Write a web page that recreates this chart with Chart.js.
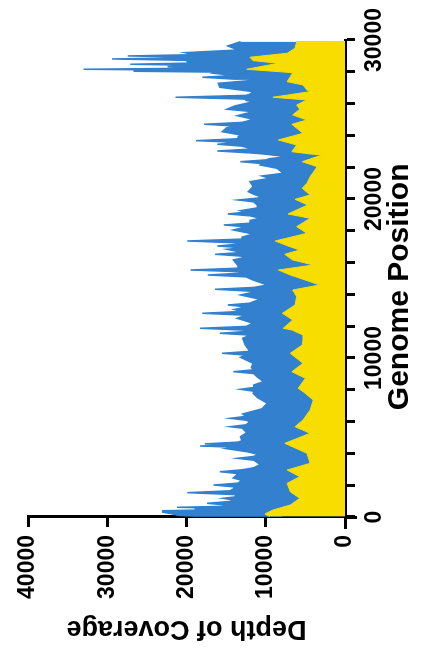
<!DOCTYPE html>
<html><head><meta charset="utf-8">
<script src="https://cdn.jsdelivr.net/npm/chart.js@4"></script>
<style>
html,body{margin:0;padding:0;background:#fff;overflow:hidden;width:426px;height:648px;}
#wrap{position:absolute;left:0;top:0;width:648px;height:426px;transform-origin:0 0;transform:translateY(648px) rotate(-90deg);}
</style></head><body>
<div id="wrap"><canvas id="c" width="648" height="426"></canvas></div>
<script>
// Genome positions and total depth of coverage (blue)
const totalPos = [
  30,60,100,189,300,396,450,500,550,610,
  670,745,862,980,1060,1176,1290,1410,1530,1650,
  1800,1893,2013,2130,2300,2450,2730,2849,2970,3100,
  3300,3570,3692,3810,3950,4107,4300,4380,4466,4530,
  4600,4710,4800,5051,5300,5500,5560,5680,5800,6000,
  6088,6208,6330,6479,6800,7152,7500,7780,7910,8032,
  8150,8300,8510,8825,9020,9140,9260,9400,9668,10045,
  10180,10297,10420,10819,11240,11440,11555,11670,11750,11869,
  11990,12184,12498,12690,12813,12930,13050,13215,13335,13450,
  13550,13693,13964,14150,14203,14323,14440,14593,14907,15100,
  15222,15340,15420,15536,15650,15800,16165,16350,16404,16524,
  16640,16838,16930,17046,17160,17240,17360,17480,17600,17800,
  18052,18250,18367,18480,18650,18790,18940,19059,19180,19266,
  19450,19625,19820,19939,20060,20147,20300,20461,20776,21090,
  21300,21449,21619,21933,22141,22230,22348,22460,22540,22663,
  22833,22900,23021,23140,23200,23323,23443,23560,23670,23790,
  23900,24028,24235,24487,24580,24701,24820,24880,25015,25242,
  25493,25644,25852,26120,26200,26280,26400,26520,26600,26750,
  27027,27279,27487,27540,27657,27770,27909,27980,28035,28090,
  28160,28230,28325,28400,28475,28560,28640,28720,28808,28890,
  28940,28997,29080,29205,29374,29626,29896];
const totalDepth = [
  8000,19000,21000,21700,23000,23000,17000,19000,16000,21200,
  15500,14800,17400,14500,14000,15400,13500,14000,19900,14500,
  14000,14000,16600,13500,13000,14100,13500,15800,13000,11500,
  10700,11500,13600,11500,11000,12400,15000,13500,18300,14000,
  17700,13500,13000,13200,12400,12800,12500,14500,12500,12000,
  12500,14500,12500,12900,10500,9800,11000,11600,11500,13200,
  11500,11500,10300,11100,11500,14100,11500,11800,11600,13200,
  12500,15500,12000,12600,12900,12000,15800,12500,12500,18300,
  12500,11600,13600,12500,18000,13000,14000,12500,14800,12000,
  11500,10700,13200,11500,12000,16400,11500,9800,11600,12500,
  17300,13000,13000,19500,13500,13500,14100,12500,13000,16400,
  13000,14900,13000,16100,13500,13500,19900,13000,13000,11600,
  14100,12500,15300,12000,12000,10700,12000,14800,12500,13200,
  11000,11100,11500,13500,11000,10700,11500,12200,11600,12000,
  9500,10500,7800,8600,10700,10500,13200,10000,9500,7300,
  10300,12000,16100,12000,12000,13000,16100,13500,18800,13500,
  13500,13200,15500,14900,13500,17800,13000,12500,11600,13600,
  11600,14900,13900,11600,12500,12500,21400,12500,12000,11600,
  15800,16000,11100,14000,18000,14000,16600,16000,26700,17000,
  33000,18000,22400,18000,27100,18500,19900,20000,29400,20000,
  20000,27400,19000,20200,13500,14800,13200];
// Genome positions and subset depth (yellow)
const subsetPos = [30,189,440,755,1176,1591,2120,2535,2956,3378,4007,4214,4636,5265,5680,6101,6730,7359,7850,8095,8724,9140,9668,10297,10819,11133,11448,11762,11869,12391,12813,13335,13857,14278,14593,14801,15222,15536,15851,16165,16524,16794,17046,17360,17845,18262,18790,19059,19625,19983,20254,20675,20990,21405,22034,22348,22770,22833,22978,23399,23713,24135,24450,24701,24971,25286,25644,25915,26229,26400,26752,26858,27173,27381,27695,27946,28160,28538,28701,28915,29167,29481,29896,29950];
const subsetDepth = [9500,10100,9100,6900,5700,6900,7300,5700,7300,4400,4800,5700,7600,4400,6300,5300,4400,4000,5200,5900,5000,6700,5300,6900,5400,5300,5300,6700,7800,6600,7900,6300,6100,6600,3200,4400,6900,8400,4000,6600,7600,5700,7200,8800,4800,6100,4400,7200,4700,6300,4400,5400,4800,4400,3500,5400,2900,4400,6700,6100,8400,5300,6100,6700,4800,6600,5700,6100,4800,9100,4400,4800,5300,7300,6900,6600,12400,8400,11600,12000,7300,6300,6100,6000];
// Axis ticks
const genomeTicks = [0,10000,20000,30000];
const depthTicks = [0,10000,20000,30000,40000];

const toXY = (xs, ys) => xs.map((x, i) => ({x: x, y: ys[i]}));
const FONT = '"Liberation Sans", Arial, Helvetica, sans-serif';

const crossAxes = {
  id: 'crossAxes',
  afterDraw(chart) {
    const {ctx, scales: {x, y}} = chart;
    const x0 = x.getPixelForValue(0), y0 = y.getPixelForValue(0);
    ctx.save();
    ctx.strokeStyle = '#000';
    ctx.lineWidth = 3;
    ctx.beginPath();
    ctx.moveTo(x0 - 12, y0 + 0.5); ctx.lineTo(x0, y0 + 0.5);
    ctx.moveTo(x0 - 0.5, y0); ctx.lineTo(x0 - 0.5, y0 + 12);
    ctx.stroke();
    ctx.restore();
  }
};

new Chart(document.getElementById('c'), {
  type: 'line',
  data: {
    datasets: [
      {label: 'subset', data: toXY(subsetPos, subsetDepth), order: 0, fill: 'origin',
       backgroundColor: '#F8DE00', borderColor: '#F8DE00', borderWidth: 1, pointRadius: 0, tension: 0},
      {label: 'total', data: toXY(totalPos, totalDepth), order: 1, fill: 'origin',
       backgroundColor: '#3280CE', borderColor: '#3280CE', borderWidth: 1.5, pointRadius: 0, tension: 0}
    ]
  },
  options: {
    responsive: false,
    animation: false,
    layout: {padding: {top: 28, right: 40, left: 0, bottom: 0}},
    plugins: {legend: {display: false}, tooltip: {enabled: false}},
    scales: {
      x: {
        type: 'linear', min: 0, max: 30000,
        afterFit: s => { s.height = 81; },
        afterBuildTicks: s => { const t = []; for (let v = 0; v <= 30000; v += 2000) t.push({value: v}); s.ticks = t; },
        ticks: {
          color: '#000', padding: 6, maxRotation: 0, autoSkip: false,
          font: {family: FONT, size: 23, weight: 'bold'},
          callback: v => genomeTicks.includes(v) ? String(v) : ''
        },
        grid: {drawOnChartArea: false, drawTicks: true, tickLength: 10, tickWidth: 3, tickColor: '#000'},
        border: {display: true, width: 3, color: '#000'},
        title: {display: true, text: 'Genome Position  ', color: '#000', padding: {top: 0, bottom: 8},
                font: {family: FONT, size: 30, weight: 'bold'}}
      },
      y: {
        type: 'linear', min: 0, max: 40000,
        afterFit: s => { s.width = 131; },
        afterBuildTicks: s => { s.ticks = depthTicks.map(v => ({value: v})); },
        ticks: {
          color: '#000', padding: 8,
          font: {family: FONT, size: 23, weight: 'bold'},
          callback: v => String(v)
        },
        grid: {drawOnChartArea: false, drawTicks: true, tickLength: 10, tickWidth: 3, tickColor: '#000'},
        border: {display: true, width: 3, color: '#000'},
        title: {display: true, text: 'Depth of Coverage', color: '#000', padding: {top: 3, bottom: 0},
                font: {family: FONT, size: 27, weight: 'bold'}}
      }
    }
  },
  plugins: [crossAxes]
});
</script>
</body></html>
